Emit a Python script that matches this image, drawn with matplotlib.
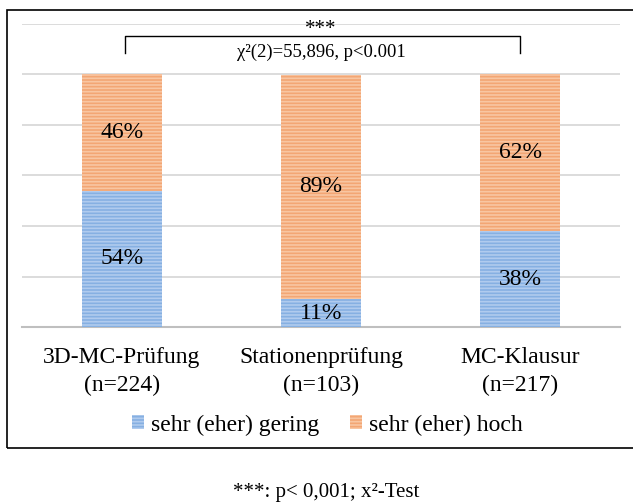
import matplotlib
matplotlib.use("Agg")
import matplotlib.pyplot as plt
from matplotlib.patches import Rectangle, Patch
import numpy as np

categories = ["3D-MC-Prüfung\n(n=224)", "Stationenprüfung\n(n=103)", "MC-Klausur\n(n=217)"]
gering = [54, 11, 38]
hoch = [46, 89, 62]
series_names = ["sehr (eher) gering", "sehr (eher) hoch"]
colors = ["#86B0E2", "#F3A674"]
hatch_colors = ["#B0CBEE", "#F8C6A2"]

plt.rcParams['font.family'] = ['Liberation Serif', 'DejaVu Serif']
plt.rcParams['hatch.linewidth'] = 1.2

fig = plt.figure(figsize=(6.33, 5.03), dpi=100)
W, H = 633, 503
ax = fig.add_axes([22 / W, 1 - 327 / H, (620 - 22) / W, (327 - 24) / H])

x = np.arange(len(categories))
b1 = ax.bar(x, gering, width=0.4, color=colors[0], hatch="-----", edgecolor=hatch_colors[0], linewidth=0, zorder=3)
b2 = ax.bar(x, hoch, width=0.4, bottom=gering, color=colors[1], hatch="-----", edgecolor=hatch_colors[1], linewidth=0, zorder=3)

for i in range(len(categories)):
    ax.text(x[i], gering[i] / 2, f"{gering[i]}%", ha="center", va="center", fontsize=17, zorder=4)
    ax.text(x[i], gering[i] + hoch[i] / 2, f"{hoch[i]}%", ha="center", va="center", fontsize=17, zorder=4)

ax.set_xlim(-0.5, 2.5)
ax.set_ylim(0, 120)
ax.set_yticks(np.arange(0, 121, 20))
ax.yaxis.grid(True, color="#D9D9D9", linewidth=1.3, zorder=0)
ax.set_axisbelow(True)
ax.tick_params(axis="y", left=False, labelleft=False)
ax.tick_params(axis="x", bottom=False, pad=11)
ax.set_xticks(x)
ax.set_xticklabels(categories, fontsize=17, linespacing=1.4)
for s in ["top", "right", "left"]:
    ax.spines[s].set_visible(False)
ax.spines["bottom"].set_color("#BFBFBF")
ax.spines["bottom"].set_linewidth(1.5)

# significance bracket
bx0, bx1 = 0.015, 2.0
ax.plot([bx0, bx0, bx1, bx1], [108.5, 115.3, 115.3, 108.5], color="black", linewidth=1.0, clip_on=False, zorder=5)
ax.text(1, 118.0, "***", ha="center", va="center", fontsize=15, clip_on=False)
ax.text(1, 108.6, "χ²(2)=55,896, p<0.001", ha="center", va="center", fontsize=13.4,
        bbox=dict(facecolor="white", edgecolor="none", pad=1), zorder=6)

# legend
handles = [Patch(facecolor=colors[0], edgecolor=hatch_colors[0], hatch="-----", linewidth=0),
           Patch(facecolor=colors[1], edgecolor=hatch_colors[1], hatch="-----", linewidth=0)]
fig.legend(handles, series_names, loc="center", bbox_to_anchor=(327.5 / W, 1 - 425 / H), ncol=2,
           frameon=False, prop={"family": "Liberation Serif", "size": 17},
           handlelength=0.5, handleheight=0.5, handletextpad=0.3, columnspacing=1.33)

# outer frame
fig.add_artist(Rectangle((7 / W, 1 - 448 / H), 1.0, (448 - 10) / H, transform=fig.transFigure,
                         fill=False, edgecolor="black", linewidth=1.2))

fig.text(326 / W, 1 - 493 / H, "***: p< 0,001; x²-Test", ha="center", va="center", fontsize=15)

fig.savefig("out.png", dpi=100)
